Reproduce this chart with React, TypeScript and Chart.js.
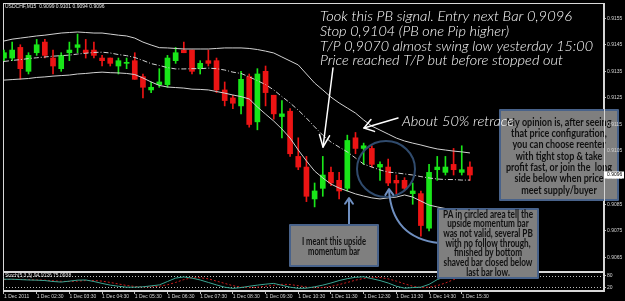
import React, { useEffect, useRef } from 'react';
import { Chart, registerables } from 'chart.js';
Chart.register(...registerables);

// ---------- DATA (USDCHF M15, 1 Dec 2011 01:30 .. 15:45) ----------
const OPEN = [
  0.9140, 0.9140, 0.9144, 0.9135, 0.9142, 0.9146, 0.9140, 0.9136, 0.9142, 0.9144,
  0.9143, 0.9143, 0.9140, 0.9140, 0.9137, 0.9138, 0.9139, 0.9133, 0.9128, 0.9130,
  0.9130, 0.9139, 0.9143, 0.9143, 0.9136, 0.9139, 0.9139, 0.9128, 0.9125, 0.9122,
  0.9133, 0.9116, 0.9135, 0.9126, 0.9118, 0.9120, 0.9103, 0.9099, 0.9087, 0.9091,
  0.9097, 0.9094, 0.9091, 0.9110, 0.9106, 0.9106, 0.9099, 0.9099, 0.9094, 0.9094,
  0.9089, 0.9089, 0.9076, 0.9098, 0.9097, 0.9100, 0.9097, 0.9099,
];
const HIGH = [
  0.9143, 0.9146, 0.9145, 0.9142, 0.9147, 0.9147, 0.9143, 0.9142, 0.9146, 0.9149,
  0.9147, 0.9146, 0.9141, 0.9140, 0.9140, 0.9140, 0.9142, 0.9134, 0.9131, 0.9136,
  0.9141, 0.9144, 0.9146, 0.9143, 0.9139, 0.9143, 0.9140, 0.9131, 0.9126, 0.9135,
  0.9134, 0.9136, 0.9137, 0.9126, 0.9124, 0.9121, 0.9110, 0.9103, 0.9093, 0.9103,
  0.9099, 0.9097, 0.9111, 0.9112, 0.9108, 0.9107, 0.9101, 0.9102, 0.9096, 0.9095,
  0.9093, 0.9090, 0.9100, 0.9103, 0.9103, 0.9106, 0.9107, 0.9101,
];
const LOW = [
  0.9139, 0.9139, 0.9132, 0.9134, 0.9141, 0.9140, 0.9134, 0.9135, 0.9139, 0.9142,
  0.9140, 0.9140, 0.9137, 0.9137, 0.9134, 0.9136, 0.9132, 0.9125, 0.9127, 0.9129,
  0.9129, 0.9138, 0.9142, 0.9134, 0.9134, 0.9137, 0.9127, 0.9122, 0.9121, 0.9119,
  0.9114, 0.9113, 0.9122, 0.9117, 0.9110, 0.9103, 0.9098, 0.9086, 0.9084, 0.9088,
  0.9092, 0.9087, 0.9090, 0.9104, 0.9100, 0.9099, 0.9094, 0.9092, 0.9089, 0.9090,
  0.9085, 0.9073, 0.9075, 0.9094, 0.9096, 0.9096, 0.9096, 0.9094,
];
const CLOSE = [
  0.9142, 0.9143, 0.9136, 0.9141, 0.9145, 0.9141, 0.9137, 0.9141, 0.9143, 0.9145,
  0.9142, 0.9141, 0.9139, 0.9138, 0.9139, 0.9138, 0.9132, 0.9129, 0.9129, 0.9131,
  0.9140, 0.9142, 0.9142, 0.9135, 0.9138, 0.9138, 0.9128, 0.9124, 0.9123, 0.9132,
  0.9115, 0.9134, 0.9127, 0.9119, 0.9119, 0.9104, 0.9099, 0.9088, 0.9090, 0.9096,
  0.9093, 0.9090, 0.9109, 0.9106, 0.9107, 0.9100, 0.9100, 0.9093, 0.9093, 0.9091,
  0.9090, 0.9077, 0.9097, 0.9099, 0.9099, 0.9098, 0.9098, 0.9096,
];
const BB_UPPER = [
  0.91464, 0.91471, 0.91475, 0.91479, 0.91483, 0.91486, 0.91490, 0.91494, 0.91496, 0.91498,
  0.91496, 0.91494, 0.91494, 0.91490, 0.91486, 0.91483, 0.91475, 0.91460, 0.91449, 0.91439,
  0.91438, 0.91436, 0.91434, 0.91434, 0.91434, 0.91434, 0.91436, 0.91438, 0.91438, 0.91438,
  0.91436, 0.91432, 0.91426, 0.91419, 0.91404, 0.91389, 0.91374, 0.91340, 0.91306, 0.91280,
  0.91253, 0.91231, 0.91212, 0.91193, 0.91167, 0.91144, 0.91129, 0.91114, 0.91099, 0.91088,
  0.91080, 0.91073, 0.91065, 0.91058, 0.91054, 0.91050, 0.91047, 0.91043,
];
const BB_MIDDLE = [
  0.91387, 0.91391, 0.91394, 0.91398, 0.91401, 0.91404, 0.91407, 0.91409, 0.91411, 0.91415,
  0.91418, 0.91421, 0.91422, 0.91419, 0.91413, 0.91409, 0.91402, 0.91391, 0.91379, 0.91372,
  0.91364, 0.91359, 0.91359, 0.91360, 0.91360, 0.91362, 0.91360, 0.91355, 0.91347, 0.91342,
  0.91329, 0.91315, 0.91300, 0.91280, 0.91255, 0.91231, 0.91204, 0.91174, 0.91141, 0.91110,
  0.91084, 0.91065, 0.91047, 0.91024, 0.91001, 0.90990, 0.90979, 0.90971, 0.90968, 0.90964,
  0.90960, 0.90954, 0.90949, 0.90945, 0.90943, 0.90943, 0.90941, 0.90941,
];
const BB_LOWER = [
  0.91317, 0.91319, 0.91321, 0.91323, 0.91327, 0.91329, 0.91332, 0.91334, 0.91336, 0.91340,
  0.91342, 0.91345, 0.91347, 0.91345, 0.91344, 0.91342, 0.91338, 0.91325, 0.91310, 0.91297,
  0.91291, 0.91289, 0.91287, 0.91283, 0.91282, 0.91280, 0.91274, 0.91268, 0.91261, 0.91255,
  0.91246, 0.91216, 0.91189, 0.91163, 0.91133, 0.91099, 0.91054, 0.91013, 0.90975, 0.90949,
  0.90926, 0.90911, 0.90900, 0.90889, 0.90881, 0.90874, 0.90870, 0.90874, 0.90877, 0.90885,
  0.90877, 0.90862, 0.90847, 0.90840, 0.90834, 0.90832, 0.90830, 0.90828,
];
const STOCH_K = [
  62, 62, 60, 58, 57, 55, 50, 47, 52, 57,
  58, 50, 40, 31, 25, 20, 20, 22, 27, 32,
  50, 68, 74, 68, 58, 45, 32, 20, 14, 18,
  25, 31, 36, 40, 30, 20, 14, 15, 22, 31,
  42, 55, 65, 72, 75, 65, 55, 42, 25, 15,
  18, 20, 35, 60, 75, 80, 85, 94.1026,
];
const STOCH_D = [
  60, 61, 61, 60, 58, 57, 54, 51, 50, 52,
  55, 55, 52, 45, 37, 29, 24, 21, 22, 25,
  33, 45, 60, 70, 70, 64, 52, 40, 28, 20,
  18, 20, 25, 30, 35, 34, 28, 21, 17, 18,
  24, 34, 45, 57, 66, 72, 71, 64, 52, 38,
  25, 18, 20, 28, 42, 60, 72, 75.0938,
];
const STOCH_LEVELS = [80, 20];
const PRICE_TICKS = [0.9155, 0.9145, 0.9135, 0.9125, 0.9115, 0.9105, 0.9095, 0.9085, 0.9075, 0.9065];
const TIME_TICK_BARS = [0, 4, 8, 12, 16, 20, 24, 28, 32, 36, 40, 44, 48, 52, 56];
const TIME_LABELS = [
  '1 Dec 2011', '1 Dec 02:30', '1 Dec 03:30', '1 Dec 04:30', '1 Dec 05:30',
  '1 Dec 06:30', '1 Dec 07:30', '1 Dec 08:30', '1 Dec 09:30', '1 Dec 10:30',
  '1 Dec 11:30', '1 Dec 12:30', '1 Dec 13:30', '1 Dec 14:30', '1 Dec 15:30',
];
const TITLE = 'USDCHF,M15  0.9099 0.9101 0.9094 0.9096';
const STOCH_TITLE = 'Stoch(5,3,3) 94.1026 75.0938';

// ---------- ANNOTATIONS (layout) ----------
const NOTE_LINES = [
  { text: 'Took this PB signal. Entry next Bar 0,9096', x: 320, y: 21, w: 252 },
  { text: 'Stop 0,9104 (PB one Pip higher)', x: 320, y: 36, w: 189 },
  { text: 'T/P 0,9070 almost swing low yesterday 15:00', x: 320, y: 51, w: 273 },
  { text: 'Price reached T/P but before stopped out', x: 320, y: 65, w: 243 },
];
const RETRACE_NOTE = { text: 'About 50% retrace', x: 402, y: 126, w: 112 };
const BOXES = [
  {
    x: 500, y: 110, w: 118, h: 90, cy0: 122, gap: 11.33, fitIdx: 4, fitW: 106,
    lines: ['My opinion is, after seeing', 'that price configuration,', 'you can choose reenter',
      'with tight stop & take', 'profit fast, or join the  long', 'side below when price', 'meet supply/buyer'],
  },
  {
    x: 290, y: 225, w: 88, h: 41, cy0: 241, gap: 10, fitIdx: 0, fitW: 64,
    lines: ['I meant this upside', 'momentum bar'],
  },
  {
    x: 438, y: 209, w: 100, h: 69, cy0: 214, gap: 9.7, fitIdx: 0, fitW: 90,
    lines: ['PA in circled area tell the', 'upside momentum bar', 'was not valid, several PB',
      'with no follow through,', 'finished by bottom', 'shaved bar closed below', 'last bar low.'],
  },
];

const X_MIN = -0.12;
const X_MAX = 73.4;
const PRICE_MIN = 0.90599;
const PRICE_MAX = 0.91607;
const GREEN = '#19e619';
const RED = '#ec1414';
const BAND = '#d2d2d2';
const AXIS = '#d4d4d4';
const FRAME = '#d8d8d8';

const candleColors = OPEN.map((o, i) => (CLOSE[i] >= o ? GREEN : RED));

function drawScaled(ctx: CanvasRenderingContext2D, text: string, x: number, y: number, sx: number, align: CanvasTextAlign) {
  ctx.save();
  ctx.translate(x, y);
  ctx.scale(sx, 1);
  ctx.textAlign = align;
  ctx.fillText(text, 0, 0);
  ctx.restore();
}

function arrowHead(ctx: CanvasRenderingContext2D, tx: number, ty: number, fx: number, fy: number, len: number, spread: number) {
  const a = Math.atan2(ty - fy, tx - fx);
  ctx.beginPath();
  ctx.moveTo(tx - len * Math.cos(a - spread), ty - len * Math.sin(a - spread));
  ctx.lineTo(tx, ty);
  ctx.lineTo(tx - len * Math.cos(a + spread), ty - len * Math.sin(a + spread));
  ctx.stroke();
}

const mainPlugin = {
  id: 'mainDecor',
  beforeDatasetsDraw(chart: any) {
    const { ctx, chartArea: a } = chart;
    ctx.save();
    ctx.strokeStyle = FRAME;
    ctx.lineWidth = 1;
    ctx.strokeRect(a.left + 0.5, a.top + 0.5, a.right - a.left - 1, a.bottom - a.top);
    ctx.restore();
  },
  afterDatasetsDraw(chart: any) {
    const ctx: CanvasRenderingContext2D = chart.ctx;
    ctx.save();
    ctx.lineCap = 'round';
    ctx.lineJoin = 'round';
    // circle
    ctx.strokeStyle = '#304b6d';
    ctx.lineWidth = 2;
    ctx.beginPath();
    ctx.ellipse(386, 169, 29, 28, 0, 0, Math.PI * 2);
    ctx.stroke();
    // blue arrows
    ctx.strokeStyle = '#6f8fc0';
    ctx.lineWidth = 2;
    ctx.beginPath();
    ctx.moveTo(349, 226);
    ctx.lineTo(349, 199);
    ctx.stroke();
    arrowHead(ctx, 349, 198, 349, 226, 7, 0.6);
    ctx.beginPath();
    ctx.moveTo(439, 243);
    ctx.quadraticCurveTo(392, 238, 389, 190);
    ctx.stroke();
    arrowHead(ctx, 389, 189, 389.6, 202, 7, 0.6);
    // boxes
    for (const b of BOXES) {
      ctx.fillStyle = '#7f7f7f';
      ctx.fillRect(b.x, b.y, b.w, b.h);
      ctx.strokeStyle = '#48628a';
      ctx.lineWidth = 2;
      ctx.strokeRect(b.x, b.y, b.w, b.h);
      ctx.fillStyle = '#101010';
      ctx.font = 'bold 11px Lato';
      ctx.textBaseline = 'middle';
      const sx = b.fitW / ctx.measureText(b.lines[b.fitIdx]).width;
      const cx = b.x + b.w / 2;
      b.lines.forEach((ln, k) => drawScaled(ctx, ln, cx, b.cy0 + k * b.gap, sx, 'center'));
    }
    // white arrows
    ctx.strokeStyle = '#ffffff';
    ctx.lineWidth = 1.5;
    ctx.beginPath();
    ctx.moveTo(333, 68);
    ctx.lineTo(323, 147);
    ctx.stroke();
    arrowHead(ctx, 323, 147, 333, 68, 13, 0.4);
    ctx.beginPath();
    ctx.moveTo(398, 118);
    ctx.lineTo(364, 128);
    ctx.stroke();
    arrowHead(ctx, 364, 128, 398, 118, 11, 0.6);
    // white notes
    ctx.fillStyle = '#ffffff';
    ctx.textBaseline = 'alphabetic';
    ctx.font = 'italic 300 13px Lato';
    for (const n of [...NOTE_LINES, RETRACE_NOTE]) {
      const sx = n.w / ctx.measureText(n.text).width;
      drawScaled(ctx, n.text, n.x, n.y, sx, 'left');
    }
    ctx.restore();
  },
  afterDraw(chart: any) {
    const ctx: CanvasRenderingContext2D = chart.ctx;
    const y = chart.scales.y.getPixelForValue(CLOSE[CLOSE.length - 1]);
    ctx.save();
    ctx.fillStyle = '#ffffff';
    ctx.fillRect(604, Math.round(y) - 3.5, 20, 7);
    ctx.fillStyle = '#000000';
    ctx.font = '5px "Liberation Sans"';
    ctx.textBaseline = 'middle';
    ctx.textAlign = 'left';
    ctx.fillText(CLOSE[CLOSE.length - 1].toFixed(4), 607, Math.round(y));
    ctx.fillStyle = '#e8e8e8';
    ctx.font = '5px "Liberation Sans"';
    ctx.fillText(TITLE, 5, 7);
    ctx.restore();
  },
};

const stochPlugin = {
  id: 'stochDecor',
  beforeDatasetsDraw(chart: any) {
    const { ctx, chartArea: a, scales } = chart;
    ctx.save();
    ctx.strokeStyle = FRAME;
    ctx.lineWidth = 1;
    ctx.strokeRect(a.left + 0.5, a.top + 0.5, a.right - a.left - 1, a.bottom - a.top - 1);
    ctx.strokeStyle = '#bdbdbd';
    ctx.setLineDash([1, 2]);
    for (const lv of STOCH_LEVELS) {
      const y = Math.round(scales.y.getPixelForValue(lv)) + 0.5;
      ctx.beginPath();
      ctx.moveTo(a.left, y);
      ctx.lineTo(a.right, y);
      ctx.stroke();
    }
    ctx.setLineDash([]);
    ctx.restore();
  },
  afterDraw(chart: any) {
    const { ctx, chartArea: a } = chart;
    ctx.save();
    ctx.fillStyle = '#e0e0e0';
    ctx.font = '5px "Liberation Sans"';
    ctx.textBaseline = 'middle';
    ctx.fillText(STOCH_TITLE, a.left + 2, a.top + 4);
    ctx.restore();
  },
};

export default function App() {
  const mainRef = useRef<HTMLCanvasElement>(null);
  const stochRef = useRef<HTMLCanvasElement>(null);

  useEffect(() => {
    document.body.style.margin = '0';
    document.body.style.background = '#000';
    const idx = OPEN.map((_, i) => i);

    const main = new Chart(mainRef.current as HTMLCanvasElement, {
      type: 'bar',
      data: {
        datasets: [
          { type: 'line', label: 'BB upper', data: idx.map((i) => ({ x: i, y: BB_UPPER[i] })), borderColor: BAND, borderWidth: 1, pointRadius: 0, fill: false } as any,
          { type: 'line', label: 'BB middle', data: idx.map((i) => ({ x: i, y: BB_MIDDLE[i] })), borderColor: BAND, borderWidth: 1, borderDash: [5, 2, 1, 2], pointRadius: 0, fill: false } as any,
          { type: 'line', label: 'BB lower', data: idx.map((i) => ({ x: i, y: BB_LOWER[i] })), borderColor: BAND, borderWidth: 1, pointRadius: 0, fill: false } as any,
          { type: 'bar', label: 'body', data: idx.map((i) => ({ x: i, y: [OPEN[i], CLOSE[i]] })), backgroundColor: candleColors, barThickness: 5, grouped: false, minBarLength: 1, borderWidth: 0 } as any,
          { type: 'bar', label: 'wick', data: idx.map((i) => ({ x: i, y: [LOW[i], HIGH[i]] })), backgroundColor: candleColors, barThickness: 1, grouped: false, borderWidth: 0 } as any,
        ],
      },
      options: {
        responsive: false,
        animation: false,
        devicePixelRatio: 1,
        events: [],
        layout: { padding: { left: 3, top: 3, right: 0, bottom: 30 } },
        plugins: { legend: { display: false }, tooltip: { enabled: false } },
        scales: {
          x: { type: 'linear', min: X_MIN, max: X_MAX, display: false, offset: false },
          y: {
            type: 'linear', position: 'right', min: PRICE_MIN, max: PRICE_MAX,
            afterFit: (s: any) => { s.width = 21; s.paddingTop = 0; s.paddingBottom = 0; },
            afterBuildTicks: (s: any) => { s.ticks = PRICE_TICKS.map((v) => ({ value: v })); },
            ticks: { z: 1, font: { size: 5, family: 'Liberation Sans' }, color: AXIS, padding: 1, callback: (v: any) => Number(v).toFixed(4) },
            grid: { drawOnChartArea: false, drawTicks: true, tickLength: 2, color: '#bdbdbd' },
            border: { display: true, color: AXIS, z: 1 },
          },
        },
      } as any,
      plugins: [mainPlugin],
    });

    const stoch = new Chart(stochRef.current as HTMLCanvasElement, {
      type: 'line',
      data: {
        datasets: [
          { label: '%K', data: idx.map((i) => ({ x: i, y: STOCH_K[i] })), borderColor: '#3aa592', borderWidth: 1, pointRadius: 0, fill: false },
          { label: '%D', data: idx.map((i) => ({ x: i, y: STOCH_D[i] })), borderColor: '#c81e1e', borderWidth: 1, borderDash: [2, 2], pointRadius: 0, fill: false },
        ],
      },
      options: {
        responsive: false,
        animation: false,
        devicePixelRatio: 1,
        events: [],
        layout: { padding: { left: 3, top: 272, right: 0, bottom: 0 } },
        plugins: { legend: { display: false }, tooltip: { enabled: false } },
        scales: {
          x: {
            type: 'linear', min: X_MIN, max: X_MAX, offset: false,
            afterFit: (s: any) => { s.height = 10; s.paddingLeft = 0; s.paddingRight = 0; },
            afterBuildTicks: (s: any) => { s.ticks = TIME_TICK_BARS.map((v) => ({ value: v })); },
            ticks: {
              autoSkip: false, maxRotation: 0, minRotation: 0, align: 'start',
              font: { size: 5, family: 'Liberation Sans' }, color: AXIS, padding: 0,
              callback: (_v: any, i: number) => TIME_LABELS[i],
            },
            grid: { drawOnChartArea: false, drawTicks: true, tickLength: 3, color: '#bdbdbd' },
            border: { display: true, color: FRAME },
          },
          y: {
            type: 'linear', position: 'right', min: 0, max: 100,
            afterFit: (s: any) => { s.width = 21; s.paddingTop = 0; s.paddingBottom = 0; },
            afterBuildTicks: (s: any) => { s.ticks = STOCH_LEVELS.map((v) => ({ value: v })); },
            ticks: { font: { size: 5, family: 'Liberation Sans' }, color: AXIS, padding: 1, callback: (v: any) => String(v) },
            grid: { drawOnChartArea: false, drawTicks: true, tickLength: 2, color: '#bdbdbd' },
            border: { display: true, color: AXIS },
          },
        },
      } as any,
      plugins: [stochPlugin],
    });

    return () => {
      main.destroy();
      stoch.destroy();
    };
  }, []);

  return (
    <div style={{ position: 'fixed', left: 0, top: 0, width: 625, height: 301, background: '#000', overflow: 'hidden' }}>
      <canvas ref={stochRef} width={625} height={301} style={{ position: 'absolute', left: 0, top: 0 }} />
      <canvas ref={mainRef} width={625} height={301} style={{ position: 'absolute', left: 0, top: 0 }} />
    </div>
  );
}
